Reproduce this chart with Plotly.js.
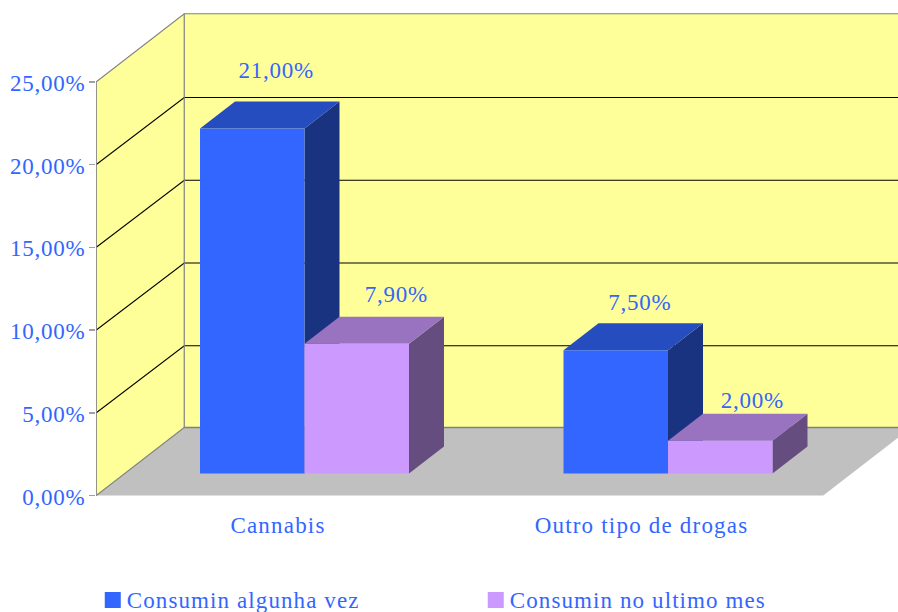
<!DOCTYPE html>
<html><head><meta charset="utf-8">
<script src="https://cdn.plot.ly/plotly-3.0.1.min.js"></script>
<style>html,body{margin:0;padding:0;background:#fff}
.xtick text{letter-spacing:1.2px}
.ytick text,.textpoint text{letter-spacing:.75px}
.legendtext{letter-spacing:1.1px;transform:translate(-6px,-1px)}</style>
</head><body><div id="chart" style="width:898px;height:612px"></div>
<script>
// data
const categories = ['Cannabis', 'Outro tipo de drogas'];
const seriesNames = ['Consumin algunha vez', 'Consumin no ultimo mes'];
const alguma = [21.0, 7.5];
const ultimo = [7.9, 2.0];
const yTicks = [0, 5, 10, 15, 20, 25];

// styles
const FONT = '"Liberation Serif", serif', TXT = '#3366FF', FS = 23;
const front = ['#3366FF', '#CC99FF'], side = ['#1A3380', '#664D80'], top_ = ['#264DBF', '#9973BF'];
const fmt = v => v.toFixed(2).replace('.', ',') + '%';

// scale helpers (pixels per axis unit, plot frame)
const L = 96, R = 898, B = 496, PXX = 363.5, PXY = 16.55, BPXY = 16.43;
const catPx = 278, barPx = 304.5, zeroPx = 495.5, barBase = 473.5;
const rangeX = c => [(L - c) / PXX, (R - c) / PXX];
const xr = rangeX(catPx), x2r = rangeX(barPx);
const yr = [(zeroPx - B) / PXY, zeroPx / PXY], y2r = [(barBase - B) / BPXY, barBase / BPXY];
const barW = 104.5 / PXX, depX = 35 / PXX, depY = 27 / BPXY;
const wallX = 88 / PXX, wallY = 68 / PXY, gridY = 67 / PXY, xL = -0.5, xE = 1.5;

const traces = [];
const poly = (x, y, color, axes) => traces.push(Object.assign({type:'scatter', mode:'lines', x, y, fill:'toself', fillcolor:color,
  line:{width:0, color}, hoverinfo:'skip', showlegend:false}, axes));
const line = (x, y, color, w) => traces.push({type:'scatter', mode:'lines', x, y, line:{color, width:w}, hoverinfo:'skip', showlegend:false});

// floor + walls
const yTop = yTicks[yTicks.length - 1];
poly([xL, xE, xE + wallX, xL + wallX], [0, 0, wallY, wallY], '#C0C0C0');
poly([xL, xL + wallX, xL + wallX, xL], [0, wallY, yTop + wallY, yTop], '#FFFF99');
poly([xL + wallX, xE + wallX, xE + wallX, xL + wallX], [wallY, wallY, yTop + wallY, yTop + wallY], '#FFFF99');
yTicks.slice(1, -1).forEach(v => line([xL, xL + wallX, xE + wallX], [v, v + gridY, v + gridY], '#000000', 1.2));
line([xL, xL, xL + wallX, xE + wallX], [0, yTop, yTop + wallY, yTop + wallY], '#808080', 1.2);
line([xL, xL + wallX, xL + wallX], [0, wallY, yTop + wallY], '#808080', 1.2);
line([xL + wallX, xE + wallX], [wallY, wallY], '#808080', 1.5);

// side/top faces of the bars
const a2 = {xaxis:'x2', yaxis:'y2'};
[alguma, ultimo].forEach((vals, s) => vals.forEach((v, i) => {
  const x0 = i - barW + s * barW, x1 = x0 + barW;
  poly([x1, x1 + depX, x1 + depX, x1], [0, depY, v + depY, v], side[s], a2);
  poly([x0, x1, x1 + depX, x0 + depX], [v, v, v + depY, v + depY], top_[s], a2);
}));

// value labels
const labelDxPx = [[24, 24], [39.5, 32]], labelDyPx = [[56, 46], [47, 38]];
[alguma, ultimo].forEach((vals, s) => traces.push({type:'scatter', mode:'text', xaxis:'x2', yaxis:'y2', showlegend:false, hoverinfo:'skip',
  x: vals.map((v, i) => i - barW + s * barW + barW / 2 + labelDxPx[s][i] / PXX),
  y: vals.map((v, i) => v + labelDyPx[s][i] / BPXY),
  text: vals.map(fmt),
  textposition:'middle center', textfont:{family:FONT, size:FS, color:TXT}, cliponaxis:false}));

// front faces
[alguma, ultimo].forEach((vals, s) => traces.push({type:'bar', xaxis:'x3', yaxis:'y3', name:seriesNames[s], x:[0, 1], y:vals,
  marker:{color:front[s], line:{width:0}}, showlegend:false, hovertemplate:'%{y:.2f}%<extra></extra>'}));

// legend entries
seriesNames.forEach((n, s) => traces.push({type:'scatter', mode:'markers', name:n, x:[null], y:[null],
  marker:{symbol:'square', size:16, color:front[s], line:{width:0}}, hoverinfo:'skip'}));

const hidden = {visible:false, fixedrange:true};
const layout = {
  width:898, height:612, margin:{l:L, r:898 - R, t:0, b:612 - B, pad:0},
  paper_bgcolor:'#fff', plot_bgcolor:'#fff', separators:',.',
  font:{family:FONT, size:FS, color:TXT}, showlegend:true, barmode:'group', bargap:1 - 2 * barW,  bargroupgap:0,
  xaxis:{range:xr, tickmode:'array', tickvals:[0, 1], ticktext:categories, ticks:'', showgrid:false, zeroline:false, showline:false,
    tickfont:{family:FONT, size:FS, color:TXT}, ticklabelstandoff:13, fixedrange:true},
  yaxis:{range:yr, tickmode:'array', tickvals:yTicks, ticktext:yTicks.map(fmt), ticks:'outside', ticklen:6, tickcolor:'#A0A0A0', tickwidth:1.5,
    ticklabelshift:1, ticklabelstandoff:-1,
    showgrid:false, zeroline:false, showline:false, tickfont:{family:FONT, size:FS, color:TXT}, fixedrange:true},
  xaxis2:Object.assign({overlaying:'x', range:x2r}, hidden),
  yaxis2:Object.assign({overlaying:'y', range:y2r}, hidden),
  xaxis3:Object.assign({overlaying:'x', range:x2r}, hidden),
  yaxis3:Object.assign({overlaying:'y', range:y2r}, hidden),
  legend:{orientation:'h', xref:'container', yref:'container', x:0.1033, xanchor:'left', y:0.0548, yanchor:'top', entrywidth:338, entrywidthmode:'pixels', bgcolor:'rgba(0,0,0,0)',
    font:{family:FONT, size:FS, color:TXT}, itemsizing:'trace'}
};
Plotly.newPlot('chart', traces, layout, {displayModeBar:false, staticPlot:true});
</script></body></html>
